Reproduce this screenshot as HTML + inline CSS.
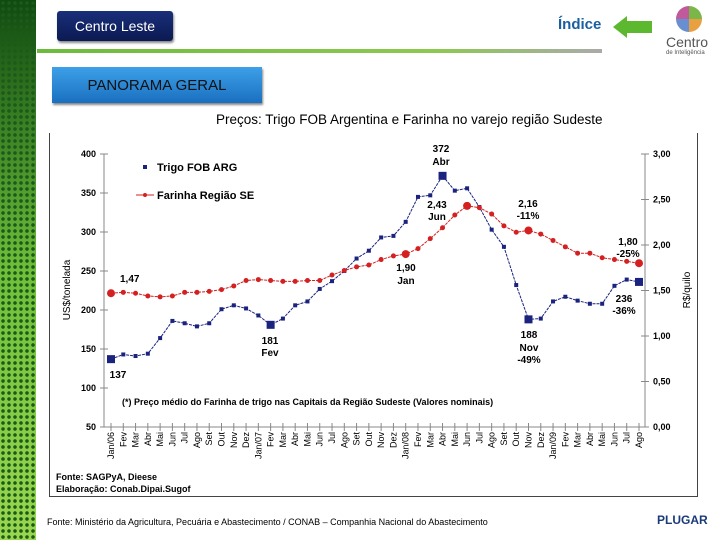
<!DOCTYPE html>
<html><head><meta charset="utf-8"><style>
body{margin:0;width:720px;height:540px;overflow:hidden;background:#fff;font-family:"Liberation Sans",sans-serif;position:relative}
.abs{position:absolute}
</style></head><body>
<div class="abs" style="left:0;top:0;width:36px;height:540px;background:radial-gradient(circle,#1a5a1a 1.6px,transparent 2px) 0 0/6px 6px,linear-gradient(#0f4a10,#6fbf3a 50%,#9ad64f)"></div>
<div class="abs" style="left:57px;top:11px;width:116px;height:30px;background:linear-gradient(#1a2f7a,#0b1a52);border-radius:3px;box-shadow:1px 2px 2px #888;color:#fff;font-size:14px;line-height:30px;text-align:center">Centro Leste</div>
<div class="abs" style="left:37px;top:49px;width:565px;height:4px;background:linear-gradient(90deg,#6dbb3c,#8cc94f 70%,#aaa)"></div>
<div class="abs" style="left:558px;top:16px;color:#1a5fa0;font-size:15px;font-weight:bold">Índice</div>
<div class="abs" style="left:613px;top:16px;width:0;height:0;border-top:11px solid transparent;border-bottom:11px solid transparent;border-right:14px solid #5cb82e"></div>
<div class="abs" style="left:626px;top:21px;width:26px;height:12px;background:#5cb82e"></div>
<div class="abs" style="left:676px;top:6px;width:26px;height:26px;border-radius:50%;background:conic-gradient(#7ab648 0 25%,#e8a040 0 50%,#6a8fd0 0 75%,#c05a9a 0)"></div>
<div class="abs" style="left:666px;top:34px;color:#555;font-size:14px">Centro<div style="font-size:6px">de Inteligência</div></div>
<div class="abs" style="left:52px;top:67px;width:210px;height:36px;background:linear-gradient(#3da0e8,#1a70c0);box-shadow:1px 2px 2px #888;color:#111;font-size:15px;line-height:38px;text-align:center">PANORAMA GERAL</div>
<div class="abs" style="left:216px;top:112px;font-size:13.5px;color:#000">Preços: Trigo FOB Argentina e Farinha no varejo região Sudeste</div>
<div class="abs" style="left:49px;top:133px;width:647px;height:363px;border:1px solid #444;border-top:none"></div>
<svg class="abs" style="left:0;top:0" width="720" height="540">
<g id="g" font-family="Liberation Sans, sans-serif"></g>
</svg>
<div class="abs" style="left:47px;top:517px;font-size:9px">Fonte: Ministério da Agricultura, Pecuária e Abastecimento / CONAB – Companhia Nacional do Abastecimento</div>
<div class="abs" style="left:657px;top:513px;font-size:12px;font-weight:bold;color:#1a3a7a">PLUGAR</div>
<script>
const months=["Jan/06","Fev","Mar","Abr","Mai","Jun","Jul","Ago","Set","Out","Nov","Dez","Jan/07","Fev","Mar","Abr","Mai","Jun","Jul","Ago","Set","Out","Nov","Dez","Jan/08","Fev","Mar","Abr","Mai","Jun","Jul","Ago","Set","Out","Nov","Dez","Jan/09","Fev","Mar","Abr","Mai","Jun","Jul","Ago"];
const trigo=[137,143,141,144,164,186,183,179,183,201,206,202,193,181,189,206,211,227,237,250,266,276,293,295,313,345,347,372,353,356,332,303,281,232,188,189,211,217,212,208,208,231,239,236];
const farinha=[1.47,1.48,1.47,1.44,1.43,1.44,1.48,1.48,1.49,1.51,1.55,1.61,1.62,1.61,1.60,1.60,1.61,1.61,1.67,1.72,1.76,1.78,1.84,1.88,1.90,1.96,2.07,2.19,2.33,2.43,2.41,2.34,2.21,2.14,2.16,2.12,2.05,1.98,1.91,1.91,1.86,1.84,1.82,1.80];
const leftTicks=[50,100,150,200,250,300,350,400];
const rightTicks=["0,00","0,50","1,00","1,50","2,00","2,50","3,00"];
const NS="http://www.w3.org/2000/svg",g=document.getElementById('g');
const X=i=>111+i*(639-111)/(months.length-1);
const YL=v=>427-(v-50)*273/350;
const YR=v=>427-v*91;
function el(t,a,txt){const e=document.createElementNS(NS,t);for(const k in a)e.setAttribute(k,a[k]);if(txt!=null)e.textContent=txt;g.appendChild(e);return e;}
let e;
e=el('line',{x1:104,y1:154,x2:104,y2:427,stroke:'#888'});
e=el('line',{x1:645,y1:154,x2:645,y2:427,stroke:'#888'});
e=el('line',{x1:104,y1:427,x2:645,y2:427,stroke:'#888'});
leftTicks.forEach(v=>{el('line',{x1:100,x2:108,y1:YL(v),y2:YL(v),stroke:'#888'});e=el('text',{x:96,y:YL(v)+3,'font-size':9,'text-anchor':'end','font-weight':'bold'},v);});
rightTicks.forEach(s=>{const v=parseFloat(s.replace(',','.'));el('line',{x1:641,x2:649,y1:YR(v),y2:YR(v),stroke:'#888'});e=el('text',{x:653,y:YR(v)+3,'font-size':9,'font-weight':'bold'},s);});
months.forEach((m,i)=>{const x=X(i);el('line',{x1:x,x2:x,y1:423,y2:431,stroke:'#888'});e=el('text',{transform:`translate(${x+3},432) rotate(-90)`,'font-size':9,'text-anchor':'end'},m);});
e=el('text',{transform:'translate(70,290) rotate(-90)','font-size':10,'text-anchor':'middle'},'US$/tonelada');
e=el('text',{transform:'translate(690,290) rotate(-90)','font-size':10,'text-anchor':'middle'},'R$/quilo');
e=el('polyline',{points:trigo.map((v,i)=>X(i)+','+YL(v)).join(' '),fill:'none',stroke:'#1a237e','stroke-width':1,'stroke-dasharray':'3,1'});
e=el('polyline',{points:farinha.map((v,i)=>X(i)+','+YR(v)).join(' '),fill:'none',stroke:'#d42020','stroke-width':1,'stroke-dasharray':'3,1'});
const bigT=[0,13,27,34,43],bigF=[0,24,29,34,43];
trigo.forEach((v,i)=>{const s=bigT.includes(i)?8:4;e=el('rect',{x:X(i)-s/2,y:YL(v)-s/2,width:s,height:s,fill:'#1a237e'});});
farinha.forEach((v,i)=>{const s=bigF.includes(i)?4:2.5;e=el('circle',{cx:X(i),cy:YR(v),r:s,fill:'#d42020'});});
el('rect',{x:143,y:165,width:4,height:4,fill:'#1a237e'});
e=el('text',{x:157,y:171,'font-size':11,'font-weight':'bold'},'Trigo FOB ARG');
el('line',{x1:136,x2:154,y1:195,y2:195,stroke:'#d42020'});el('circle',{cx:145,cy:195,r:2,fill:'#d42020'});
e=el('text',{x:157,y:199,'font-size':11,'font-weight':'bold'},'Farinha Região SE');
const anns=[[120,282,'1,47'],[118,378,'137'],[270,344,'181'],[270,356,'Fev'],[441,152,'372'],[441,165,'Abr'],[437,208,'2,43'],[437,220,'Jun'],[528,207,'2,16'],[528,219,'-11%'],[529,338,'188'],[529,351,'Nov'],[529,363,'-49%'],[406,271,'1,90'],[406,284,'Jan'],[628,245,'1,80'],[628,257,'-25%'],[624,302,'236'],[624,314,'-36%']];
anns.forEach(a=>{e=el('text',{x:a[0],y:a[1],'font-size':10,'font-weight':'bold','text-anchor':'middle'},a[2]);});
document.querySelectorAll('#g text').forEach(t=>{if(t.textContent==='1,47')t.setAttribute('text-anchor','start');});
e=el('text',{x:122,y:405,'font-size':9,'font-weight':'bold'},'(*) Preço médio do Farinha de trigo nas Capitais da Região Sudeste (Valores nominais)');
e=el('text',{x:56,y:480,'font-size':9,'font-weight':'bold'},'Fonte: SAGPyA, Dieese');
e=el('text',{x:56,y:492,'font-size':9,'font-weight':'bold'},'Elaboração: Conab.Dipai.Sugof');
</script>
</body></html>
